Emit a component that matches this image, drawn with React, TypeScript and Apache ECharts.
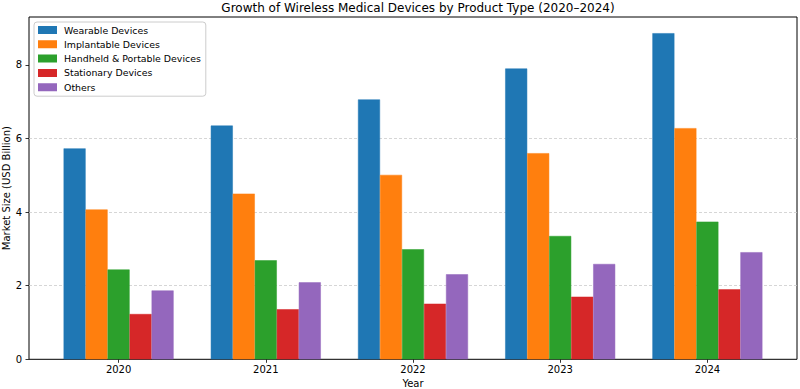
import React, { useEffect, useRef } from "react";
import * as echarts from "echarts";

const years = ["2020", "2021", "2022", "2023", "2024"];
const seriesNames = [
  "Wearable Devices",
  "Implantable Devices",
  "Handheld & Portable Devices",
  "Stationary Devices",
  "Others",
];
const wearable = [5.73, 6.35, 7.06, 7.9, 8.86];
const implantable = [4.07, 4.5, 5.01, 5.6, 6.28];
const handheld = [2.44, 2.69, 2.99, 3.35, 3.74];
const stationary = [1.23, 1.36, 1.51, 1.7, 1.9];
const others = [1.87, 2.09, 2.31, 2.59, 2.91];
const yTicks = [0, 2, 4, 6, 8];
const colors = ["#1f77b4", "#ff7f0e", "#2ca02c", "#d62728", "#9467bd"];

const FONT = "DejaVu Sans";
const Y_MAX = 9.3;

export default function App() {
  const ref = useRef<HTMLDivElement>(null);
  useEffect(() => {
    if (!ref.current) return;
    const chart = echarts.init(ref.current, null, { renderer: "svg" });
    const values = [wearable, implantable, handheld, stationary, others];
    chart.setOption({
      animation: false,
      backgroundColor: "#ffffff",
      textStyle: { fontFamily: FONT },
      title: {
        text: "Growth of Wireless Medical Devices by Product Type (2020–2024)",
        left: 413,
        textAlign: "center",
        top: -3,
        textStyle: { fontFamily: FONT, fontSize: 12, fontWeight: "normal", color: "#000" },
      },
      legend: {
        orient: "vertical",
        left: 34,
        top: 22,
        data: seriesNames,
        icon: "rect",
        itemWidth: 17,
        itemHeight: 6,
        itemGap: 2.3,
        padding: [2, 5, 3, 4],
        backgroundColor: "rgba(255,255,255,0.85)",
        borderColor: "#cccccc",
        borderWidth: 1,
        borderRadius: 3,
        textStyle: { fontFamily: FONT, fontSize: 9.4, color: "#000", padding: [0, 0, 0, 3], lineHeight: 12 },
      },
      grid: [
        { left: 29, right: 3, top: 17, bottom: 29.7, show: true, borderColor: "#000", borderWidth: 1, z: 0, outerBoundsMode: "none", containLabel: false },
        { left: 45, right: 19, top: 17, bottom: 29.7, outerBoundsMode: "none", containLabel: false },
      ],
      xAxis: [
        { gridIndex: 0, type: "value", min: 0, max: 1, show: false },
        {
          gridIndex: 1,
          type: "category",
          data: years,
          name: "Year",
          nameLocation: "middle",
          nameGap: 19,
          nameMoveOverlap: false,
          nameTextStyle: { fontFamily: FONT, fontSize: 10, color: "#000" },
          axisLine: { show: false },
          axisTick: { show: true, alignWithLabel: true, length: 3.5, lineStyle: { color: "#000", width: 0.8 } },
          axisLabel: { fontFamily: FONT, fontSize: 10, color: "#000", margin: 5 },
          splitLine: { show: false },
        },
      ],
      yAxis: [
        {
          gridIndex: 0,
          type: "value",
          min: 0,
          max: Y_MAX,
          interval: 2,
          name: "Market Size (USD Billion)",
          nameLocation: "middle",
          nameGap: 18,
          nameMoveOverlap: false,
          nameTextStyle: { fontFamily: FONT, fontSize: 10, color: "#000" },
          axisLine: { show: false },
          axisTick: { show: true, length: 3.5, lineStyle: { color: "#000", width: 0.8 }, customValues: yTicks },
          axisLabel: { fontFamily: FONT, fontSize: 10, color: "#000", margin: 7, customValues: yTicks },
          splitLine: {
            show: true,
            showMinLine: false,
            showMaxLine: false,
            lineStyle: { color: "#cccccc", type: [3, 2], width: 0.8 },
          },
        },
        { gridIndex: 1, type: "value", min: 0, max: Y_MAX, show: false },
      ],
      series: seriesNames.map((name, i) => ({
        name,
        type: "bar",
        xAxisIndex: 1,
        yAxisIndex: 1,
        data: values[i],
        barWidth: 22,
        barGap: "0%",
        itemStyle: { color: colors[i], borderColor: colors[i], borderWidth: 0.5 },
      })),
    });
    return () => chart.dispose();
  }, []);
  return (
    <div
      ref={ref}
      style={{ position: "fixed", left: 0, top: 0, width: 800, height: 389 }}
    />
  );
}
